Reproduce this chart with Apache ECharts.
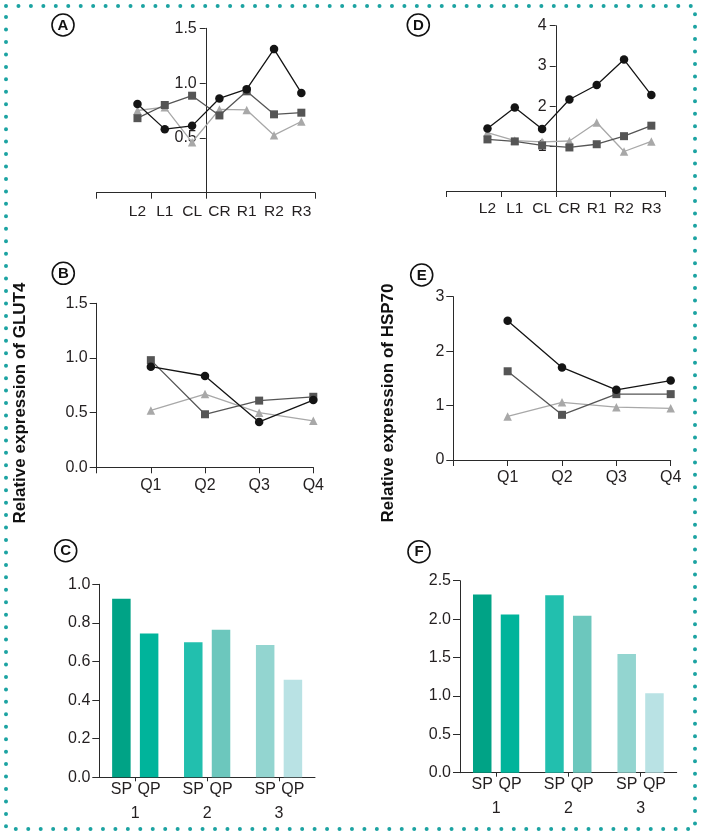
<!DOCTYPE html>
<html><head><meta charset="utf-8">
<script src="https://cdn.jsdelivr.net/npm/echarts@6/dist/echarts.min.js"></script>
<style>html,body{margin:0;padding:0;background:#fff}#c{width:701px;height:835px}</style>
</head><body><div id="c"></div>
<script>
// ---------- data ----------
const regions = ['L2','L1','CL','CR','R1','R2','R3'];
const glutRegionCircle = [0.81, 0.58, 0.61, 0.86, 0.945, 1.31, 0.91];
const glutRegionSquare = [0.68, 0.80, 0.885, 0.705, 0.925, 0.715, 0.73];
const glutRegionTriangle = [0.75, 0.78, 0.46, 0.76, 0.755, 0.525, 0.65];

const hspRegionCircle = [1.45, 1.97, 1.44, 2.17, 2.53, 3.16, 2.28];
const hspRegionSquare = [1.18, 1.13, 1.03, 0.98, 1.06, 1.26, 1.52];
const hspRegionTriangle = [1.35, 1.15, 1.12, 1.14, 1.60, 0.88, 1.13];
const hspRegionTicks = [1, 2, 3, 4];

const quarters = ['Q1','Q2','Q3','Q4'];
const glutQCircle = [0.92, 0.835, 0.415, 0.615];
const glutQSquare = [0.98, 0.485, 0.61, 0.645];
const glutQTriangle = [0.52, 0.67, 0.50, 0.425];
const hspQCircle = [2.56, 1.70, 1.29, 1.46];
const hspQSquare = [1.63, 0.83, 1.21, 1.21];
const hspQTriangle = [0.80, 1.06, 0.97, 0.95];

const groups = ['1','2','3'];
const barNames = ['SP','QP'];
const glutSP = [0.925, 0.70, 0.685];
const glutQP = [0.745, 0.765, 0.505];
const hspSP = [2.32, 2.31, 1.545];
const hspQP = [2.06, 2.045, 1.035];

const yTitles = ['Relative expression of GLUT4', 'Relative expression of HSP70'];
const panelLetters = ['A','D','B','E','C','F'];

// ---------- styling ----------
const spColors = ['#00a386', '#22bfae', '#93d5d0'];
const qpColors = ['#00b49b', '#6cc7bd', '#b9e2e4'];
const FONT = '"Liberation Sans", Arial, sans-serif';
const AX = '#2a2a2a', TX = '#231f20';
const C_CIRCLE = '#141414', C_SQUARE = '#555555', C_TRI = '#a8a8a8';

const chart = echarts.init(document.getElementById('c'), null, {renderer: 'canvas'});

const grids = [
  {left: 96.5, top: 28.3, width: 218.5, height: 164.4},   // A
  {left: 446.5, top: 25.7, width: 218.5, height: 165.3},  // D
  {left: 96.7, top: 303.3, width: 216.6, height: 164},    // B
  {left: 453.3, top: 296.7, width: 217.4, height: 163.3}, // E
  {left: 99.3, top: 584.3, width: 215.7, height: 193},    // C
  {left: 460, top: 580.7, width: 216.7, height: 192}      // F
];

function lineStyleAxis() { return {show: true, onZero: false, lineStyle: {color: AX, width: 1}}; }
function tick(len) { return {show: true, length: len, lineStyle: {color: AX, width: 1}}; }
function lbl(extra) { return Object.assign({color: TX, fontSize: 16, fontFamily: FONT}, extra || {}); }

const xAxis = [
  // A
  {type: 'value', gridIndex: 0, min: -4, max: 4, interval: 2, position: 'bottom',
   axisLine: lineStyleAxis(), axisTick: tick(6), axisLabel: {show: false}, splitLine: {show: false}},
  {type: 'category', gridIndex: 0, position: 'bottom', data: [''].concat(regions),
   axisLine: {show: false}, axisTick: {show: false}, axisLabel: lbl({fontSize: 15.5, interval: 0, margin: 11})},
  // D
  {type: 'value', gridIndex: 1, min: -4, max: 4, interval: 2, position: 'bottom',
   axisLine: lineStyleAxis(), axisTick: tick(6), axisLabel: {show: false}, splitLine: {show: false}},
  {type: 'category', gridIndex: 1, position: 'bottom', data: [''].concat(regions),
   axisLine: {show: false}, axisTick: {show: false}, axisLabel: lbl({fontSize: 15.5, interval: 0, margin: 10})},
  // B
  {type: 'category', gridIndex: 2, position: 'bottom', data: [''].concat(quarters), boundaryGap: false,
   axisLine: lineStyleAxis(), axisTick: Object.assign(tick(6), {interval: 0}), axisLabel: lbl({interval: 0, margin: 10})},
  // E
  {type: 'category', gridIndex: 3, position: 'bottom', data: [''].concat(quarters), boundaryGap: false,
   axisLine: lineStyleAxis(), axisTick: Object.assign(tick(6), {interval: 0}), axisLabel: lbl({interval: 0, margin: 10})},
  // C
  {type: 'category', gridIndex: 4, position: 'bottom', data: groups,
   axisLine: lineStyleAxis(), axisTick: Object.assign(tick(4), {alignWithLabel: true}), axisLabel: lbl({interval: 0, margin: 28})},
  // F
  {type: 'category', gridIndex: 5, position: 'bottom', data: groups,
   axisLine: lineStyleAxis(), axisTick: Object.assign(tick(4), {alignWithLabel: true}), axisLabel: lbl({interval: 0, margin: 28})}
];

const fix1 = v => v.toFixed(1);
const yAxis = [
  // A: axis crosses the x axis in the middle of the grid (between CL and CR)
  {type: 'value', gridIndex: 0, min: 0, max: 1.5, interval: 0.5, position: 'left', offset: -grids[0].width / 2,
   axisLine: lineStyleAxis(), axisTick: tick(6),
   axisLabel: lbl({formatter: v => (v > 0 ? v.toFixed(1) : ''), margin: 9}), splitLine: {show: false}},
  // D
  {type: 'value', gridIndex: 1, min: -0.1, max: 4, position: 'left', offset: -grids[1].width / 2,
   axisLine: lineStyleAxis(), axisTick: Object.assign(tick(6), {customValues: hspRegionTicks}),
   axisLabel: lbl({customValues: hspRegionTicks, formatter: v => String(Math.round(v)), margin: 9}), splitLine: {show: false}},
  {type: 'value', gridIndex: 2, min: 0, max: 1.5, interval: 0.5,
   axisLine: lineStyleAxis(), axisTick: tick(7), axisLabel: lbl({formatter: fix1, margin: 9}), splitLine: {show: false}},
  {type: 'value', gridIndex: 3, min: 0, max: 3, interval: 1,
   axisLine: lineStyleAxis(), axisTick: tick(7), axisLabel: lbl({margin: 9}), splitLine: {show: false}},
  {type: 'value', gridIndex: 4, min: 0, max: 1, interval: 0.2,
   axisLine: lineStyleAxis(), axisTick: tick(7), axisLabel: lbl({formatter: fix1, margin: 9}), splitLine: {show: false}},
  {type: 'value', gridIndex: 5, min: 0, max: 2.5, interval: 0.5,
   axisLine: lineStyleAxis(), axisTick: tick(7), axisLabel: lbl({formatter: fix1, margin: 9}), splitLine: {show: false}}
];

function line(values, xi, yi, kind) {
  const conf = {
    tri: {symbol: 'triangle', size: 8.5, color: C_TRI},
    sq: {symbol: 'rect', size: 8, color: C_SQUARE},
    ci: {symbol: 'circle', size: 8.5, color: C_CIRCLE}
  }[kind];
  return {
    type: 'line', xAxisIndex: xi, yAxisIndex: yi, data: ['-'].concat(values),
    symbol: conf.symbol, symbolSize: conf.size, showSymbol: true,
    itemStyle: {color: conf.color, borderWidth: 0},
    lineStyle: {color: conf.color, width: 1.3}, animation: false, silent: true
  };
}

function bars(values, name, colors, xi, yi) {
  return {
    type: 'bar', name: name, xAxisIndex: xi, yAxisIndex: yi,
    data: values.map((v, i) => ({value: v, itemStyle: {color: colors[i]}})),
    barWidth: 18.5, barGap: '50%', animation: false, silent: true,
    label: {show: true, position: 'bottom', distance: 4, formatter: p => p.seriesName,
            color: TX, fontSize: 16, fontFamily: FONT}
  };
}

const series = [
  line(glutRegionTriangle, 1, 0, 'tri'), line(glutRegionSquare, 1, 0, 'sq'), line(glutRegionCircle, 1, 0, 'ci'),
  line(hspRegionTriangle, 3, 1, 'tri'), line(hspRegionSquare, 3, 1, 'sq'), line(hspRegionCircle, 3, 1, 'ci'),
  line(glutQTriangle, 4, 2, 'tri'), line(glutQSquare, 4, 2, 'sq'), line(glutQCircle, 4, 2, 'ci'),
  line(hspQTriangle, 5, 3, 'tri'), line(hspQSquare, 5, 3, 'sq'), line(hspQCircle, 5, 3, 'ci'),
  bars(glutSP, barNames[0], spColors, 6, 4), bars(glutQP, barNames[1], qpColors, 6, 4),
  bars(hspSP, barNames[0], spColors, 7, 5), bars(hspQP, barNames[1], qpColors, 7, 5)
];

const labelPos = [[63, 25], [418.3, 25], [63.3, 273.3], [421.7, 275], [65.7, 550.7], [419, 551.7]];
const graphic = [
  {type: 'rect', shape: {x: 6, y: 6, width: 689, height: 823}, silent: true,
   style: {fill: 'none', stroke: '#1ca3a2', lineWidth: 4, lineDash: [0, 12.45], lineCap: 'round'}}
];
panelLetters.forEach((L, i) => {
  const [x, y] = labelPos[i];
  graphic.push({type: 'circle', shape: {cx: x, cy: y, r: 11}, silent: true,
    style: {fill: '#fff', stroke: '#111', lineWidth: 1.6}});
  graphic.push({type: 'text', x: x, y: y + 0.5, silent: true,
    style: {text: L, font: 'bold 15px ' + FONT, fill: '#111', align: 'center', verticalAlign: 'middle',
            textAlign: 'center', textVerticalAlign: 'middle'}});
});
[[20, 403], [388, 403]].forEach((p, i) => {
  graphic.push({type: 'text', x: p[0], y: p[1], rotation: Math.PI / 2, silent: true,
    style: {text: yTitles[i], font: 'bold 17px ' + FONT, fill: '#111', align: 'center', verticalAlign: 'middle',
            textAlign: 'center', textVerticalAlign: 'middle'}});
});

chart.setOption({
  animation: false,
  backgroundColor: '#fff',
  grid: grids.map(g => Object.assign({containLabel: false}, g)),
  xAxis: xAxis,
  yAxis: yAxis,
  series: series,
  graphic: graphic
});
</script>
</body></html>
